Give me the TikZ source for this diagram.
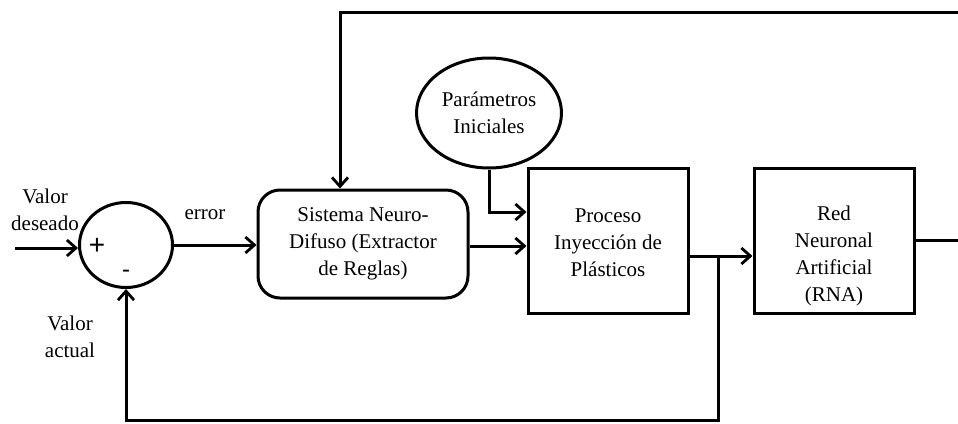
\documentclass[tikz,border=0pt]{standalone}
\usepackage{fontspec}
\setmainfont{Liberation Serif}
\newfontfamily\signfont{Liberation Sans}
\usetikzlibrary{arrows.meta,shapes.geometric}
\tikzset{
  blk/.style={draw,line width=3pt,minimum width=160pt,minimum height=145pt,inner sep=0pt},
  rblk/.style={blk,rounded corners=22pt,minimum width=210pt,minimum height=108pt},
  txt/.style={align=center,inner sep=0pt,font=\rmfamily\fontsize{21}{27}\selectfont},
  line/.style={line width=3pt},
  arr/.style={line,-{Straight Barb[length=9pt,width=16pt,line width=2.8pt]}},
}
\begin{document}
\begin{tikzpicture}[x=1pt,y=-1pt]
    \useasboundingbox (0,0) rectangle (958,423);
    % bloques
    \node[blk,ellipse,minimum width=93pt,minimum height=85pt] (sum) at (126,245) {};
    \node[rblk,txt] (nfs) at (363,244) {Sistema Neuro-\\Difuso (Extractor\\de Reglas)};
    \node[blk] (proc) at (608,240.5) {};
    \node[txt] (proctxt) at (608,243) {Proceso\\Inyección de\\Plásticos};
    \node[blk] (rna) at (834,240.5) {};
    \node[txt] (rnatxt) at (834,256) {Red\\Neuronal\\Artificial\\(RNA)};
    \node[blk,ellipse,minimum width=145pt,minimum height=110pt,txt] (par) at (489,113) {Parámetros\\Iniciales};
    % signos y etiquetas
    \node[font=\signfont\fontsize{28}{28}\selectfont] (mas) at (97,246) {+};
    \node[font=\signfont\fontsize{24}{24}\selectfont] (menos) at (126,274) {-};
    \node[txt] (vdes) at (45,210) {Valor\\deseado};
    \node[txt] (err) at (205,215) {error};
    \node[txt] (vact) at (70,337) {Valor\\actual};
    % puntos auxiliares
    \coordinate (in) at (15,248);
    \coordinate (br) at (718,256);
    \coordinate (fb) at (718,420);
    \coordinate (tl) at (340,12);
    \coordinate (tr) at (980,12);
    % conexiones
    \draw[arr] (in) -- (in -| sum.west);
    \draw[arr] (sum.east) -- (sum.east -| nfs.west);
    \draw[arr] (nfs.east |- 0,246) -- (proc.west |- 0,246);
    \draw[arr] (par.south) |- (proc.west |- 0,212);
    \draw[arr] (proc.east |- br) -- (rna.west |- br);
    \draw[arr] (br) -- (fb) -| (sum.south);
    \draw[arr] (rna.east) -| (tr) -- (tl) -- (tl |- nfs.north);
\end{tikzpicture}
\end{document}
